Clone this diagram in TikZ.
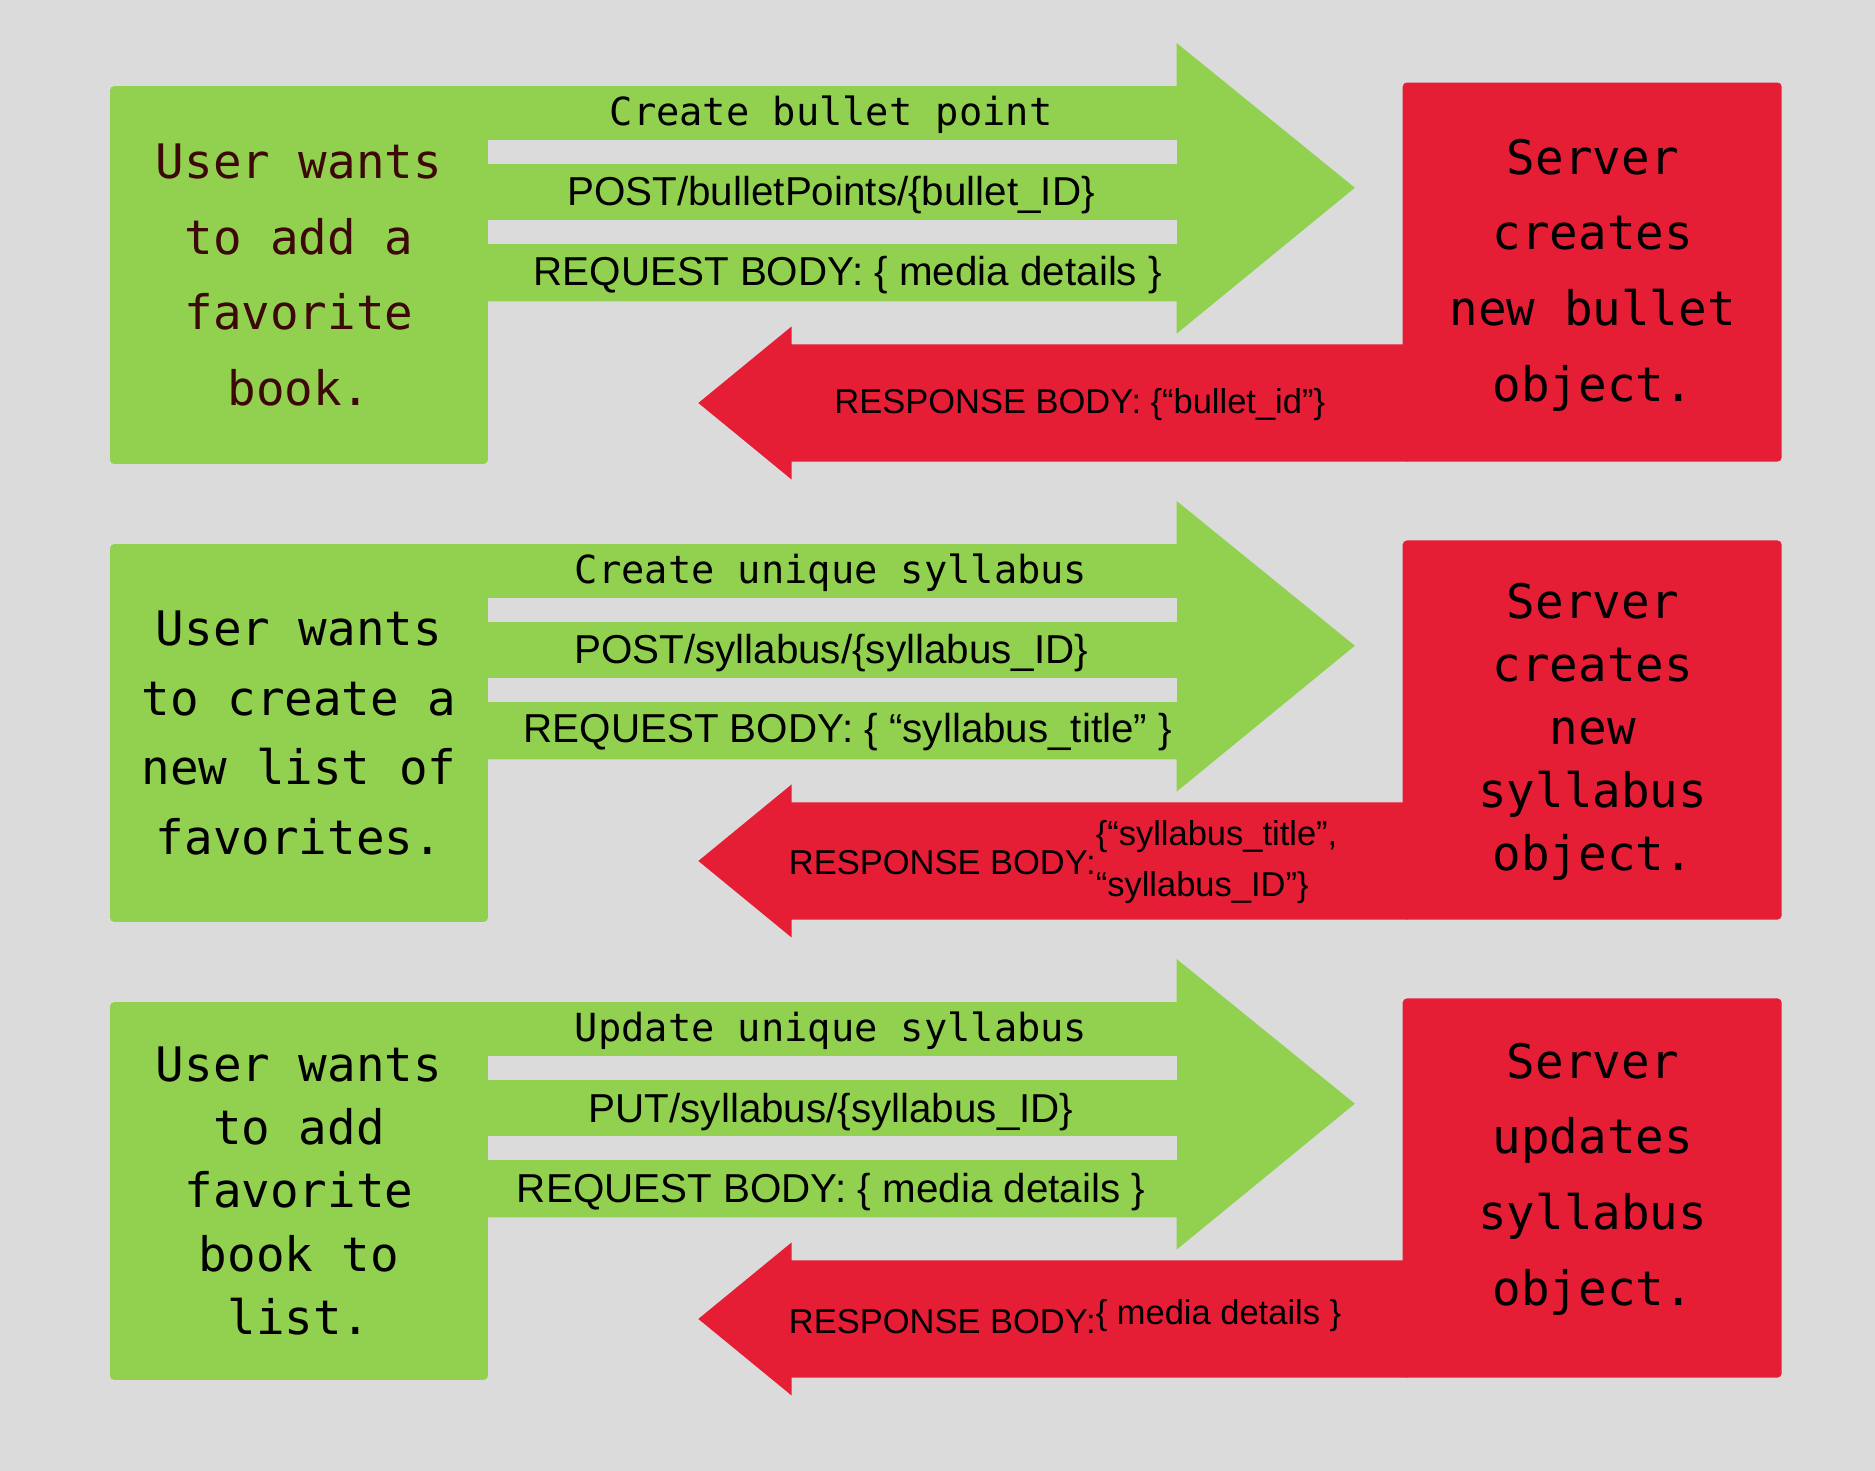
\documentclass[tikz,border=0pt]{standalone}
\usepackage{fontspec}
\setmainfont{Liberation Sans}
\newfontfamily\monofont{DejaVu Sans Mono}
\definecolor{bggray}{RGB}{219,219,219}
\definecolor{leafgreen}{RGB}{146,208,80}
\definecolor{alarmred}{RGB}{229,30,54}
\definecolor{darkbrown}{RGB}{60,8,8}
\tikzset{
  boxtext/.style={align=center, font=\monofont\fontsize{11.3}{15}\selectfont},
  titletext/.style={font=\monofont\fontsize{9.2}{11}\selectfont},
  reqtext/.style={font=\fontsize{9.6}{11}\selectfont},
  resptext/.style={font=\fontsize{8.2}{10}\selectfont},
}
% one request/response row, shifted down by #1
\newcommand\flowrow[8]{%
  \begin{scope}[yshift=#1*-0.01cm]
    \fill[leafgreen, rounded corners=1pt] (92,72) rectangle (408,388);
    \fill[leafgreen] (404,72) -- (984,72) -- (984,36) -- (1133,157) -- (984,279) -- (984,252) -- (404,252) -- cycle;
    \fill[bggray] (408,117) rectangle (984,137);
    \fill[bggray] (408,184) rectangle (984,204);
    \fill[alarmred, rounded corners=1pt] (1173,69) rectangle (1490,386);
    \fill[alarmred] (1177,288) -- (662,288) -- (662,273) -- (584,337) -- (662,401) -- (662,386) -- (1177,386) -- cycle;
    \node[boxtext, text=#3] (user) at (250,230) {#2};
    \node[boxtext] (server) at (1332,#8) {#7};
    \node[titletext] (title) at (695,96) {#4};
    #5
    #6
  \end{scope}}
\begin{document}
\begin{tikzpicture}[x=0.01cm, y=-0.01cm]
  \fill[bggray] (0,0) rectangle (1568,1230);
  \useasboundingbox (0,0) rectangle (1568,1230);

  \flowrow{0}{User wants\\[3pt]to add a\\[3pt]favorite\\[3pt]book.}{darkbrown}{Create bullet point}
    {\node[reqtext] (req) at (695,163) {POST/bulletPoints/\{bullet\_ID\}};
     \node[reqtext] (body) at (709,230) {REQUEST BODY: \{ media details \}};}
    {\node[resptext] (resp) at (903,338) {RESPONSE BODY: \{“bullet\_id”\}};}
    {Server\\[3pt]creates\\[3pt]new bullet\\[3pt]object.}{230}

  \flowrow{383}{User wants\\[1.5pt]to create a\\[1.5pt]new list of\\[1.5pt]favorites.}{black}{Create unique syllabus}
    {\node[reqtext] (req) at (695,163) {POST/syllabus/\{syllabus\_ID\}};
     \node[reqtext] (body) at (709,229) {REQUEST BODY: \{ “syllabus\_title” \}};}
    {\node[resptext] (resp) at (788,338) {RESPONSE BODY:};
     \node[resptext, anchor=west] (resp1) at (904,317) {\{“syllabus\_title”,};
     \node[resptext, anchor=west] (resp2) at (904,359) {“syllabus\_ID”\}};}
    {Server\\creates\\new\\syllabus\\object.}{229}

  \flowrow{766}{User wants\\to add\\favorite\\book to\\list.}{black}{Update unique syllabus}
    {\node[reqtext] (req) at (695,164) {PUT/syllabus/\{syllabus\_ID\}};
     \node[reqtext] (body) at (695,231) {REQUEST BODY: \{ media details \}};}
    {\node[resptext] (resp) at (788,339) {RESPONSE BODY:};
     \node[resptext, anchor=west] (resp1) at (904,334) {\{ media details \}};}
    {Server\\[3pt]updates\\[3pt]syllabus\\[3pt]object.}{220}
\end{tikzpicture}
\end{document}
